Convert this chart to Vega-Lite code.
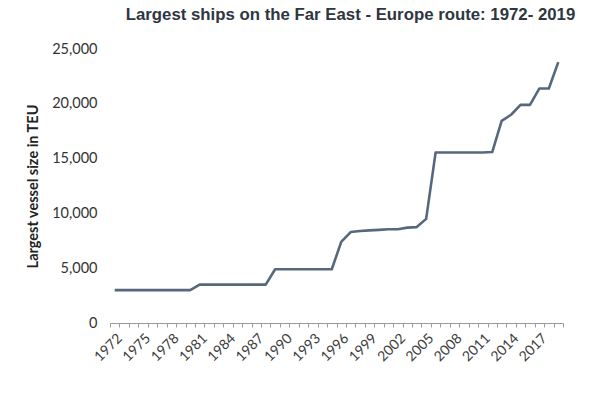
{
  "$schema": "https://vega.github.io/schema/vega-lite/v6.json",
  "autosize": "none",
  "width": 453,
  "height": 274,
  "padding": {"left": 110, "top": 49, "right": 49, "bottom": 74},
  "background": "white",
  "title": {
    "text": "Largest ships on the Far East - Europe route: 1972- 2019",
    "font": "Liberation Sans",
    "fontSize": 16.8,
    "fontWeight": "bold",
    "color": "#2e3640",
    "anchor": "middle",
    "dx": 14,
    "offset": 17
  },
  "data": {
    "values": [
      {"year": 1972, "teu": 3000}, {"year": 1973, "teu": 3000}, {"year": 1974, "teu": 3000},
      {"year": 1975, "teu": 3000}, {"year": 1976, "teu": 3000}, {"year": 1977, "teu": 3000},
      {"year": 1978, "teu": 3000}, {"year": 1979, "teu": 3000}, {"year": 1980, "teu": 3000},
      {"year": 1981, "teu": 3500}, {"year": 1982, "teu": 3500}, {"year": 1983, "teu": 3500},
      {"year": 1984, "teu": 3500}, {"year": 1985, "teu": 3500}, {"year": 1986, "teu": 3500},
      {"year": 1987, "teu": 3500}, {"year": 1988, "teu": 3500}, {"year": 1989, "teu": 4900},
      {"year": 1990, "teu": 4900}, {"year": 1991, "teu": 4900}, {"year": 1992, "teu": 4900},
      {"year": 1993, "teu": 4900}, {"year": 1994, "teu": 4900}, {"year": 1995, "teu": 4900},
      {"year": 1996, "teu": 7400}, {"year": 1997, "teu": 8300}, {"year": 1998, "teu": 8400},
      {"year": 1999, "teu": 8450}, {"year": 2000, "teu": 8500}, {"year": 2001, "teu": 8550},
      {"year": 2002, "teu": 8550}, {"year": 2003, "teu": 8700}, {"year": 2004, "teu": 8750},
      {"year": 2005, "teu": 9500}, {"year": 2006, "teu": 15550}, {"year": 2007, "teu": 15550},
      {"year": 2008, "teu": 15550}, {"year": 2009, "teu": 15550}, {"year": 2010, "teu": 15550},
      {"year": 2011, "teu": 15550}, {"year": 2012, "teu": 15600}, {"year": 2013, "teu": 18450},
      {"year": 2014, "teu": 19000}, {"year": 2015, "teu": 19900}, {"year": 2016, "teu": 19900},
      {"year": 2017, "teu": 21400}, {"year": 2018, "teu": 21400}, {"year": 2019, "teu": 23800}
    ]
  },
  "mark": {"type": "line", "color": "#56687b", "strokeWidth": 2.6, "strokeJoin": "round"},
  "encoding": {
    "x": {
      "field": "year",
      "type": "ordinal",
      "bandPosition": 0.5,
      "scale": {"type": "band", "paddingInner": 0, "paddingOuter": 0},
      "axis": {
        "title": null,
        "tickBand": "extent",
        "labelExpr": "(datum.value - 1972) % 3 == 0 ? datum.value : ''",
        "labelAngle": -45,
        "labelAlign": "right",
        "labelBaseline": "top",
        "labelFont": "Lato",
        "labelFontSize": 14,
        "labelColor": "#3c3c3c",
        "labelPadding": 4,
        "labelOverlap": false,
        "domainColor": "#9a9a9a",
        "domainWidth": 1,
        "tickColor": "#9a9a9a",
        "tickSize": 4,
        "grid": false
      }
    },
    "y": {
      "field": "teu",
      "type": "quantitative",
      "scale": {"domain": [0, 25000], "nice": false},
      "axis": {
        "title": "Largest vessel size in TEU",
        "titleFont": "Lato",
        "titleFontSize": 14.5,
        "titleFontWeight": "bold",
        "titleColor": "#222222",
        "titlePadding": 11,
        "values": [0, 5000, 10000, 15000, 20000, 25000],
        "format": ",.0f",
        "labelFont": "Lato",
        "labelFontSize": 14.5,
        "labelColor": "#333333",
        "labelPadding": 13,
        "domain": false,
        "ticks": false,
        "grid": false
      }
    }
  },
  "config": {"view": {"stroke": null}}
}
